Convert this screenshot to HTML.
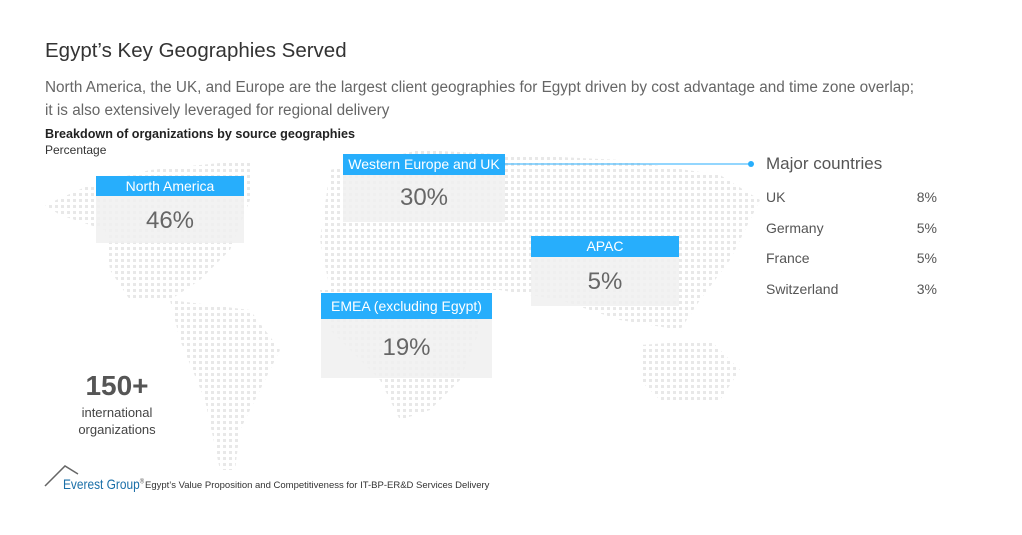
<!DOCTYPE html>
<html><head><style>
body{margin:0;width:1022px;height:535px;background:#fff;font-family:"Liberation Sans",sans-serif;position:relative;overflow:hidden}
.a{position:absolute;white-space:nowrap}
.hd{position:absolute;background:#27aefc;color:#fff;font-size:14px;text-align:center;line-height:21px}
.bd{position:absolute;background:rgba(240,240,240,0.85);color:#666;font-size:24px;text-align:center}
.r{position:absolute;left:766px;width:171px;font-size:14px;color:#555}
.r span{float:right}
</style></head><body>
<svg class="a" style="left:0;top:0" width="1022" height="535">
<defs><pattern id="d" width="6" height="6" patternUnits="userSpaceOnUse"><rect x="1" y="1" width="3" height="3" fill="#e8e8e8"/></pattern></defs>
<g fill="url(#d)">
<polygon points="45,205 90,185 150,170 250,160 250,200 230,250 200,280 170,300 130,300 110,270 105,230 60,215"/>
<polygon points="170,300 250,310 280,350 260,390 240,430 235,470 220,470 205,400 180,340"/>
<polygon points="330,170 420,150 520,155 620,160 720,175 760,200 730,260 700,300 680,330 620,320 560,300 500,290 420,290 330,290 320,240"/>
<polygon points="320,290 470,290 480,330 460,380 430,410 400,420 380,380 330,330"/>
<polygon points="640,345 710,340 740,370 720,400 660,400 640,380"/>
</g>
<line x1="505" y1="164" x2="751" y2="164" stroke="#27aefc" stroke-width="1"/>
<circle cx="751" cy="164" r="3" fill="#27aefc"/>
<polyline points="45,486 65,466 78,474" fill="none" stroke="#666" stroke-width="1.5"/>
</svg>
<div class="a" style="left:45px;top:39px;font-size:20.5px;color:#333">Egypt’s Key Geographies Served</div>
<div class="a" style="left:45px;top:76px;font-size:15.3px;color:#666;line-height:23px">North America, the UK, and Europe are the largest client geographies for Egypt driven by cost advantage and time zone overlap;<br>it is also extensively leveraged for regional delivery</div>
<div class="a" style="left:45px;top:127px;font-size:12.6px;font-weight:bold;color:#222">Breakdown of organizations by source geographies</div>
<div class="a" style="left:45px;top:143px;font-size:12px;color:#333">Percentage</div>

<div class="bd" style="left:96px;top:196px;width:148px;height:47px;line-height:50px">46%</div>
<div class="hd" style="left:96px;top:176px;width:148px;height:20px">North America</div>
<div class="bd" style="left:343px;top:175px;width:162px;height:47px;line-height:46px">30%</div>
<div class="hd" style="left:343px;top:154px;width:162px">Western Europe and UK</div>
<div class="bd" style="left:531px;top:257px;width:148px;height:49px;line-height:50px">5%</div>
<div class="hd" style="left:531px;top:236px;width:148px">APAC</div>
<div class="bd" style="left:321px;top:319px;width:171px;height:59px;line-height:58px">19%</div>
<div class="hd" style="left:321px;top:293px;width:171px;height:26px;line-height:26px">EMEA (excluding Egypt)</div>

<div class="a" style="left:766px;top:154px;font-size:17px;color:#555">Major countries</div>
<div class="r" style="top:189px">UK<span>8%</span></div>
<div class="r" style="top:220px">Germany<span>5%</span></div>
<div class="r" style="top:250px">France<span>5%</span></div>
<div class="r" style="top:281px">Switzerland<span>3%</span></div>

<div class="a" style="left:57px;top:370px;width:120px;text-align:center;font-size:28px;font-weight:bold;color:#555">150+</div>
<div class="a" style="left:57px;top:404px;width:120px;text-align:center;font-size:13px;color:#444;line-height:17px">international<br>organizations</div>

<div class="a" style="left:63px;top:476px;font-size:14px;color:#1a6fa8;transform:scaleX(0.85);transform-origin:left">Everest Group<sup style="font-size:7px;color:#555">®</sup></div>
<div class="a" style="left:145px;top:480px;font-size:9.5px;color:#333">Egypt’s Value Proposition and Competitiveness for IT-BP-ER&amp;D Services Delivery</div>
</body></html>
